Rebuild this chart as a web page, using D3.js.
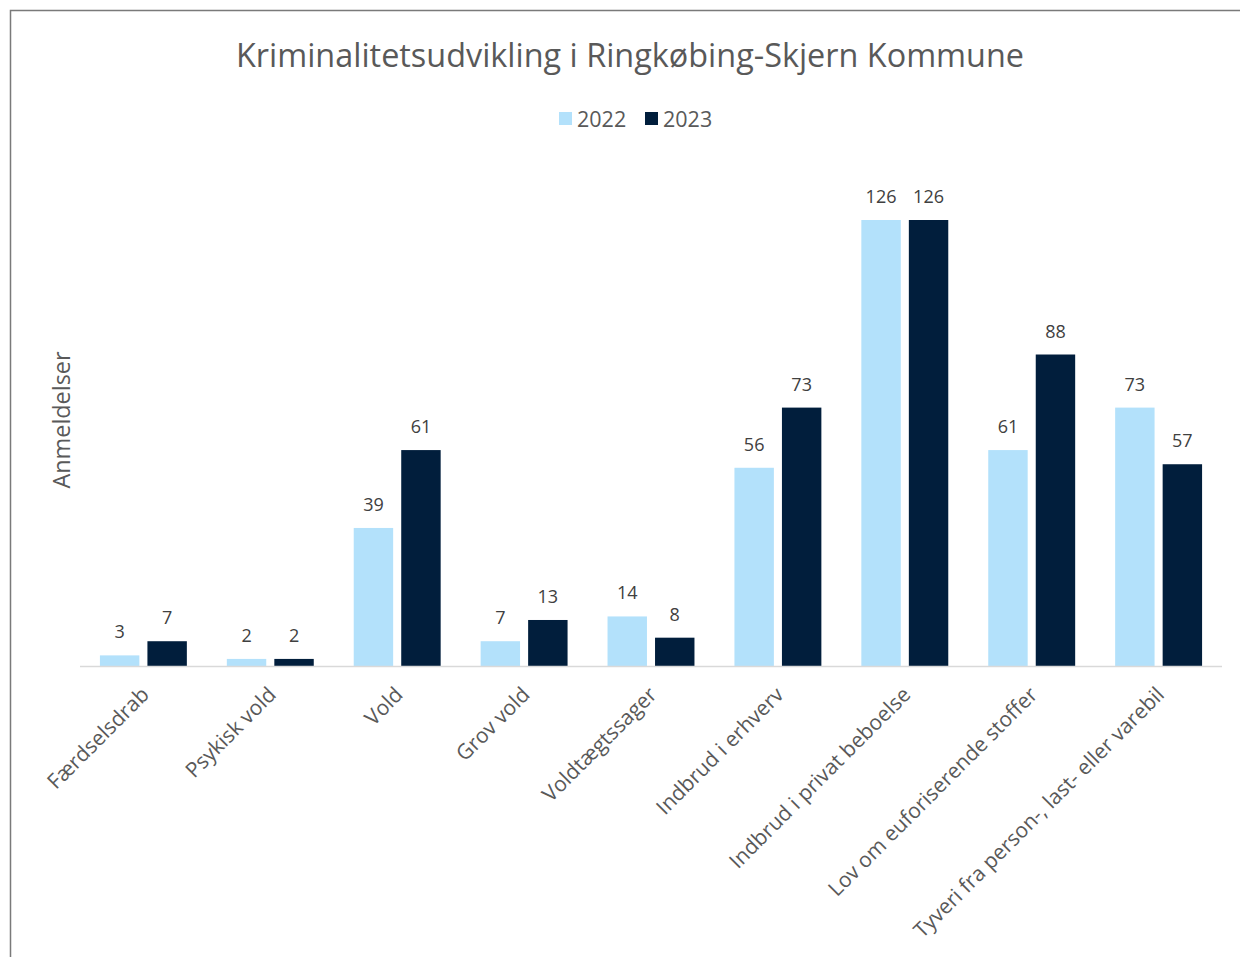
<!DOCTYPE html>
<html>
<head>
<meta charset="utf-8">
<script src="https://cdn.jsdelivr.net/npm/d3@7"></script>
<style>
  body { margin: 0; background: #fff; }
  svg text { font-family: "Open Sans", "DejaVu Sans", sans-serif; }
</style>
</head>
<body>
<svg id="chart" width="1240" height="957"></svg>
<script>
// kategorier og tal pr. aar
var categories = ["Færdselsdrab", "Psykisk vold", "Vold", "Grov vold", "Voldtægtssager",
  "Indbrud i erhverv", "Indbrud i privat beboelse", "Lov om euforiserende stoffer",
  "Tyveri fra person-, last- eller varebil"];
var years = ["2022", "2023"];
var values2022 = [3, 2, 39, 7, 14, 56, 126, 61, 73];
var values2023 = [7, 2, 61, 13, 8, 73, 126, 88, 57];
var colors = ["#B3E1FB", "#011E3C"];

var svg = d3.select("#chart");

// ramme rundt om diagrammet
svg.append("rect")
  .attr("x", 10.5).attr("y", 10.5)
  .attr("width", 1240).attr("height", 960)
  .attr("fill", "none").attr("stroke", "#7a7a7a").attr("stroke-width", 1.5);

var left = 80, right = 1222, base = 666;
var x0 = d3.scaleBand().domain(categories).range([left, right]).paddingInner(0.315).paddingOuter(0.157);
var x1 = d3.scaleBand().domain(years).range([0, x0.bandwidth()]).paddingInner(0.17);
var y = d3.scaleLinear().domain([0, 126]).range([base, 220]);

var rows = categories.map(function (c, i) {
  return { cat: c, vals: [values2022[i], values2023[i]] };
});

// titel
svg.append("text")
  .attr("x", 630).attr("y", 67)
  .attr("text-anchor", "middle")
  .attr("font-size", "32.4px").attr("fill", "#595959")
  .text("Kriminalitetsudvikling i Ringkøbing-Skjern Kommune");

// legend
var leg = svg.append("g");
var legX = [559, 645];
years.forEach(function (yr, i) {
  leg.append("rect").attr("x", legX[i]).attr("y", 112).attr("width", 13).attr("height", 13).attr("fill", colors[i]);
  leg.append("text").attr("x", legX[i] + 18).attr("y", 127)
    .attr("font-size", "21.5px").attr("fill", "#595959").text(yr);
});

// y-akse titel
svg.append("text")
  .attr("transform", "translate(70,420) rotate(-90)")
  .attr("text-anchor", "middle")
  .attr("font-size", "23.4px").attr("fill", "#595959")
  .text("Anmeldelser");

// soejler
var groups = svg.selectAll("g.cat").data(rows).enter().append("g")
  .attr("class", "cat")
  .attr("transform", function (d) { return "translate(" + x0(d.cat) + ",0)"; });

groups.selectAll("rect").data(function (d) { return d.vals; }).enter().append("rect")
  .attr("x", function (d, i) { return x1(years[i]); })
  .attr("y", function (d) { return y(d); })
  .attr("width", x1.bandwidth())
  .attr("height", function (d) { return base - y(d); })
  .attr("fill", function (d, i) { return colors[i]; });

groups.selectAll("text.val").data(function (d) { return d.vals; }).enter().append("text")
  .attr("class", "val")
  .attr("x", function (d, i) { return x1(years[i]) + x1.bandwidth() / 2; })
  .attr("y", function (d) { return y(d) - 17; })
  .attr("text-anchor", "middle")
  .attr("font-size", "18px").attr("fill", "#404040")
  .text(function (d) { return d; });

// x-akse
svg.append("line")
  .attr("x1", left).attr("x2", right)
  .attr("y1", base + 0.5).attr("y2", base + 0.5)
  .attr("stroke", "#d9d9d9").attr("stroke-width", 1.5);

svg.selectAll("text.cat").data(categories).enter().append("text")
  .attr("class", "cat")
  .attr("transform", function (d) {
    var cx = x0(d) + x0.bandwidth() / 2 + 7;
    return "translate(" + cx + "," + (base + 30) + ") rotate(-45)";
  })
  .attr("text-anchor", "end")
  .attr("font-size", "21px").attr("fill", "#595959")
  .text(function (d) { return d; });
</script>
</body>
</html>
